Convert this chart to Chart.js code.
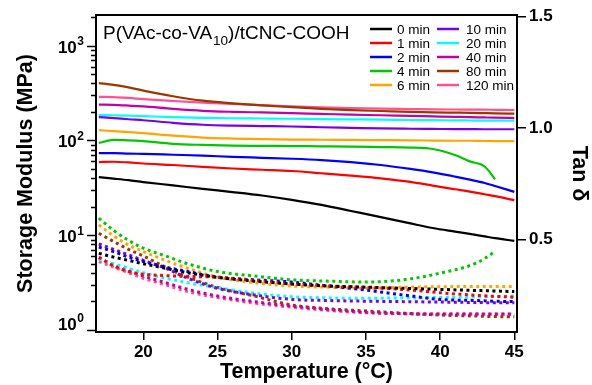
<!DOCTYPE html>
<html>
<head>
<meta charset="utf-8">
<script src="https://cdn.jsdelivr.net/npm/chart.js@4/dist/chart.umd.min.js"></script>
<style>
  html, body { margin: 0; padding: 0; background: #fff; }
</style>
</head>
<body>
<canvas id="grafica" width="592" height="385"></canvas>
<script>
// tiempos de tratamiento (leyenda)
const tiempos = ["0 min", "1 min", "2 min", "4 min", "6 min", "10 min", "20 min", "40 min", "80 min", "120 min"];
const colores = ["#000000", "#ff0000", "#0000ff", "#00c800", "#ffa500", "#7a00e6", "#00ffff", "#c400a8", "#9a3800", "#ff5090"];

// temperatura (ºC) para el módulo de almacenamiento
const tempE = [17, 18, 19, 20, 22, 24, 26, 28, 30, 32, 34, 36, 38, 39.5, 41, 42, 43, 43.7, 45];
// módulo de almacenamiento (MPa)
const e0 = [41, 39.5, 38, 36.3, 33.5, 30.8, 28.5, 26.2, 23.6, 20.9, 18, 15.5, 13.3, 11.9, 10.9, 10.3, 9.7, 9.3, 8.7];
const e1 = [59, 59.5, 58.5, 57, 55, 52.5, 50.5, 49, 47.5, 45, 42.5, 39.8, 36.5, 33.3, 30.5, 28.8, 27, 25.8, 23.4];
const e2 = [73.5, 73.5, 72.5, 72, 70.5, 69, 67, 65.5, 64, 62, 59, 55, 50, 46, 41.5, 38.5, 35.5, 33, 28.6];
const e4 = [94, 101, 100, 98, 92, 89.5, 88, 87.5, 87, 86.5, 86, 85, 84, 81, 70, 60, 53, 38.8, null];
const e6 = [128, 125, 122, 119, 112, 107, 104.5, 103, 102, 101.5, 101, 100.5, 100, 99.5, 99, 99, 98.5, 98.3, 98];
const e10 = [176, 172, 167, 163, 153, 146, 143, 141.5, 140, 137.5, 135.5, 133.5, 132.5, 132, 131.5, 131.3, 131, 131, 131];
const e20 = [185, 184, 182, 180, 176, 173, 171, 170, 169, 167.5, 166.5, 165.5, 164, 163.5, 162.5, 162, 161.5, 161.3, 161];
const e40 = [238, 237, 233, 228, 215, 205, 200, 197, 194, 190, 186.5, 184, 181, 179, 177, 176, 174.5, 173.5, 172];
const e80 = [401, 385, 362, 335, 292, 262, 246, 234, 224, 215, 208, 204, 200, 197.5, 196, 195, 193.5, 192.5, 191];
const e120 = [288, 286, 280, 272, 260, 250, 242, 235, 228, 223, 219, 216, 214, 212.5, 211.5, 211, 210.5, 210, 209];

// temperatura (ºC) para tan δ
const tempT = [17, 18, 19, 20, 21.5, 23, 25, 27.5, 30, 32.5, 35, 37.5, 40, 42.5, 43.6, 45];
const t0 = [0.437, 0.42, 0.405, 0.39, 0.37, 0.35, 0.329, 0.312, 0.299, 0.29, 0.285, 0.28, 0.275, 0.27, 0.268, 0.265];
const t1 = [0.42, 0.38, 0.355, 0.343, 0.337, 0.333, 0.33, 0.315, 0.3, 0.29, 0.284, 0.275, 0.26, 0.248, 0.244, 0.24];
const t2 = [0.465, 0.445, 0.42, 0.4, 0.375, 0.355, 0.33, 0.318, 0.308, 0.29, 0.272, 0.25, 0.23, 0.225, 0.222, 0.22];
const t4 = [0.595, 0.54, 0.495, 0.46, 0.425, 0.39, 0.355, 0.335, 0.318, 0.312, 0.308, 0.318, 0.348, 0.395, 0.44, null];
const t6 = [0.565, 0.515, 0.475, 0.445, 0.405, 0.37, 0.33, 0.305, 0.29, 0.285, 0.28, 0.285, 0.287, 0.288, 0.288, 0.288];
const t10 = [0.479, 0.455, 0.43, 0.405, 0.37, 0.325, 0.28, 0.25, 0.23, 0.225, 0.222, 0.22, 0.218, 0.216, 0.215, 0.215];
const t20 = [0.41, 0.39, 0.37, 0.35, 0.325, 0.305, 0.283, 0.258, 0.242, 0.237, 0.235, 0.237, 0.239, 0.242, 0.243, 0.245];
const t40 = [0.415, 0.385, 0.36, 0.335, 0.305, 0.275, 0.245, 0.22, 0.2, 0.185, 0.172, 0.166, 0.164, 0.165, 0.165, 0.165];
const t80 = [0.527, 0.49, 0.455, 0.425, 0.375, 0.33, 0.284, 0.245, 0.205, 0.188, 0.178, 0.168, 0.16, 0.155, 0.153, 0.152];
const t120 = [0.4, 0.375, 0.35, 0.325, 0.295, 0.265, 0.238, 0.213, 0.195, 0.18, 0.17, 0.166, 0.164, 0.164, 0.163, 0.163];

const modulos = [e0, e1, e2, e4, e6, e10, e20, e40, e80, e120];
const tangentes = [t0, t1, t2, t4, t6, t10, t20, t40, t80, t120];

// marcas de los ejes
const ticksX = [20, 25, 30, 35, 40, 45];
const ticksTan = [0.5, 1.0, 1.5];
const decadas = [0, 1, 2, 3];

const FUENTE = '"Liberation Sans", Arial, Helvetica, sans-serif';

function puntos(temps, valores) {
    return temps.map((t, i) => ({ x: t, y: valores[i] })).filter((p) => p.y !== null);
}

const datasets = [];
modulos.forEach((serie, i) => {
    datasets.push({
        label: tiempos[i],
        data: puntos(tempE, serie),
        yAxisID: "y",
        borderColor: colores[i],
        borderWidth: 2.2,
        pointRadius: 0,
        cubicInterpolationMode: "monotone",
    });
});
tangentes.forEach((serie, i) => {
    datasets.push({
        label: tiempos[i] + " tan δ",
        data: puntos(tempT, serie),
        yAxisID: "y2",
        borderColor: colores[i],
        borderWidth: 3,
        borderDash: [3, 3.5],
        borderCapStyle: "butt",
        pointRadius: 0,
        cubicInterpolationMode: "monotone",
    });
});

// marco, marcas logarítmicas, título interno y leyenda en dos columnas
const decoracion = {
    id: "decoracion",
    afterDraw(chart) {
        const { ctx, chartArea: a, scales } = chart;
        const y = scales.y;
        ctx.save();
        ctx.strokeStyle = "#000";
        ctx.fillStyle = "#000";

        ctx.lineWidth = 2;
        ctx.strokeRect(a.left, a.top, a.right - a.left, a.bottom - a.top);

        ctx.lineWidth = 1.5;
        for (let e = 0; e <= 3; e++) {
            for (let m = 1; m <= 9; m++) {
                const v = m * Math.pow(10, e);
                if (v < y.min || v > y.max) continue;
                const py = Math.round(y.getPixelForValue(v)) + 0.5;
                const largo = m === 1 ? 9 : 5;
                ctx.beginPath();
                ctx.moveTo(a.left - largo, py);
                ctx.lineTo(a.left, py);
                ctx.stroke();
            }
        }

        ctx.textAlign = "right";
        ctx.textBaseline = "alphabetic";
        decadas.forEach((e) => {
            const py = y.getPixelForValue(Math.pow(10, e));
            const base = e === 0 ? py : py + 7;
            ctx.font = "bold 12px " + FUENTE;
            ctx.fillText(String(e), 84, base - 7.5);
            const w = ctx.measureText(String(e)).width;
            ctx.font = "bold 17px " + FUENTE;
            ctx.fillText("10", 84 - w - 0.5, base);
        });

        // título de la muestra con subíndice
        ctx.textAlign = "left";
        let x = 103;
        ctx.font = "19px " + FUENTE;
        ctx.fillText("P(VAc-co-VA", x, 38.7);
        x += ctx.measureText("P(VAc-co-VA").width + 1;
        ctx.font = "13.5px " + FUENTE;
        ctx.fillText("10", x, 45);
        x += ctx.measureText("10").width;
        ctx.font = "19px " + FUENTE;
        ctx.fillText(")/tCNC-COOH", x, 38.7);

        // leyenda
        ctx.font = "13.5px " + FUENTE;
        tiempos.forEach((lab, i) => {
            const col = Math.floor(i / 5);
            const fila = i % 5;
            const x0 = col === 0 ? 370 : 437;
            const tx = col === 0 ? 397 : 466;
            const y0 = 29 + fila * 14;
            ctx.strokeStyle = colores[i];
            ctx.lineWidth = 2.5;
            ctx.beginPath();
            ctx.moveTo(x0, y0);
            ctx.lineTo(x0 + 22, y0);
            ctx.stroke();
            ctx.fillText(lab, tx, y0 + 4.5);
        });
        ctx.restore();
    },
};

new Chart(document.getElementById("grafica"), {
    type: "line",
    data: { datasets },
    options: {
        responsive: false,
        animation: false,
        layout: { padding: { top: 15, left: 0, right: 0, bottom: 0 } },
        plugins: { legend: { display: false }, tooltip: { enabled: false } },
        scales: {
            x: {
                type: "linear",
                min: 16.81,
                max: 45.18,
                afterBuildTicks: (s) => { s.ticks = ticksX.map((v) => ({ value: v })); },
                afterFit: (s) => { s.height = 53; },
                grid: { drawOnChartArea: false, tickLength: 8, color: "#000", lineWidth: 1.5 },
                border: { display: false },
                ticks: { color: "#000", padding: 2, font: { family: FUENTE, size: 17, weight: "bold" } },
                title: {
                    display: true,
                    text: "Temperature (°C)",
                    color: "#000",
                    padding: { top: 0, bottom: 0 },
                    font: { family: FUENTE, size: 21.5, weight: "bold" },
                },
            },
            y: {
                type: "logarithmic",
                position: "left",
                min: 0.952,
                max: 2100,
                afterFit: (s) => { s.width = 96; },
                grid: { display: false },
                border: { display: false },
                ticks: { display: false },
                title: {
                    display: true,
                    text: "Storage Modulus (MPa)",
                    color: "#000",
                    padding: { top: 13, bottom: 0 },
                    font: { family: FUENTE, size: 21.5, weight: "bold" },
                },
            },
            y2: {
                type: "linear",
                position: "right",
                min: 0.0836,
                max: 1.5076,
                afterBuildTicks: (s) => { s.ticks = ticksTan.map((v) => ({ value: v })); },
                afterFit: (s) => { s.width = 75; },
                grid: { drawOnChartArea: false, tickLength: 9, color: "#000", lineWidth: 1.5 },
                border: { display: false },
                ticks: {
                    color: "#000",
                    padding: 3,
                    font: { family: FUENTE, size: 17, weight: "bold" },
                    callback: (v) => v.toFixed(1),
                },
                title: {
                    display: true,
                    text: "Tan δ",
                    color: "#000",
                    padding: { top: 0, bottom: 0 },
                    font: { family: FUENTE, size: 21.5, weight: "bold" },
                },
            },
        },
    },
    plugins: [decoracion],
});
</script>
</body>
</html>
